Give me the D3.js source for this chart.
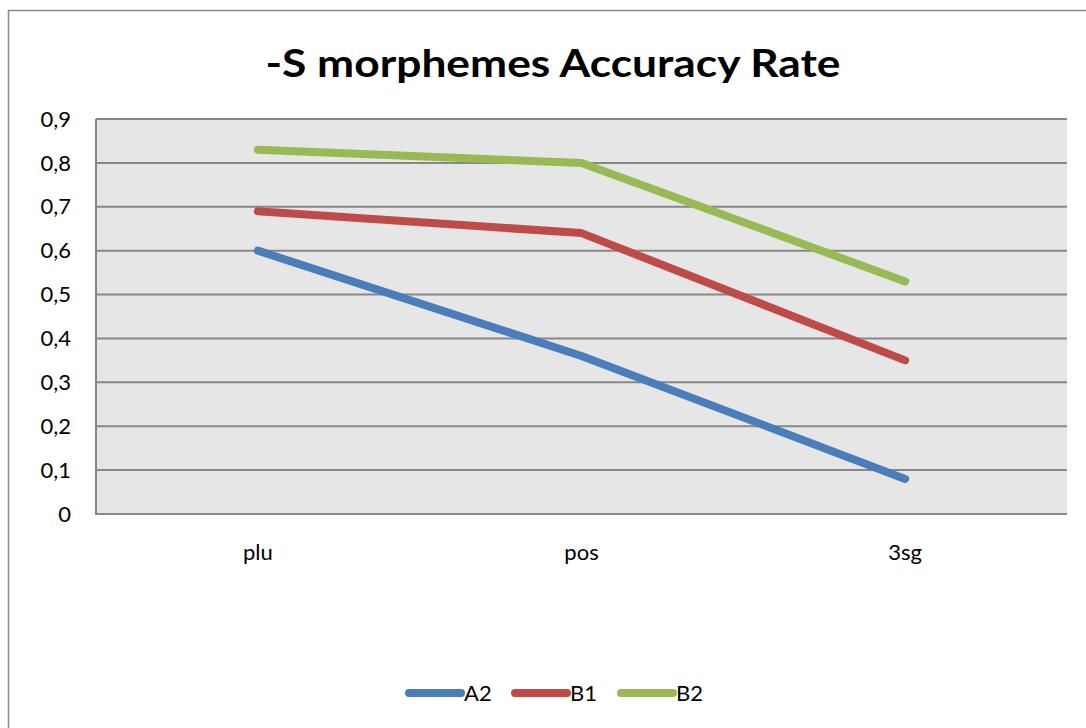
<!DOCTYPE html>
<html>
<head>
<meta charset="utf-8">
<script src="https://cdn.jsdelivr.net/npm/d3@7"></script>
<style>
  body { margin: 0; background: #fff; }
  text { font-family: Lato, "Open Sans", sans-serif; fill: #000; }
</style>
</head>
<body>
<div id="viz"></div>
<script>
const categories = ["plu", "pos", "3sg"];
const seriesNames = ["A2", "B1", "B2"];
const a2Values = [0.60, 0.36, 0.08];
const b1Values = [0.69, 0.64, 0.35];
const b2Values = [0.83, 0.80, 0.53];
const yTicks = [0, 0.1, 0.2, 0.3, 0.4, 0.5, 0.6, 0.7, 0.8, 0.9];
const colors = ["#4a7ebb", "#be4b48", "#98b954"];

const width = 1086;
const height = 728;

const svg = d3.select("#viz").append("svg")
    .attr("width", width)
    .attr("height", height);

// outer chart border (runs off the right and bottom edge)
svg.append("rect")
    .attr("x", 8.5).attr("y", 10.5)
    .attr("width", 1100).attr("height", 740)
    .attr("fill", "white")
    .attr("stroke", "#888").attr("stroke-width", 1.5);

const plot = { left: 96, right: 1067, top: 119, bottom: 514 };

const x = d3.scalePoint()
    .domain(categories)
    .range([plot.left, plot.right])
    .padding(0.5);

const y = d3.scaleLinear()
    .domain([0, 0.9])
    .range([plot.bottom, plot.top]);

svg.append("rect")
    .attr("x", plot.left).attr("y", plot.top)
    .attr("width", plot.right - plot.left)
    .attr("height", plot.bottom - plot.top)
    .attr("fill", "#e6e6e6");

// gridlines
svg.selectAll(".grid")
    .data(yTicks)
    .enter()
    .append("line")
    .attr("x1", plot.left).attr("x2", plot.right)
    .attr("y1", d => y(d)).attr("y2", d => y(d))
    .attr("stroke", "#878787").attr("stroke-width", 2);

svg.append("line")
    .attr("x1", plot.left).attr("x2", plot.left)
    .attr("y1", plot.top).attr("y2", plot.bottom + 1)
    .attr("stroke", "#878787").attr("stroke-width", 2);

const fmt = d => d === 0 ? "0" : d3.format(".1f")(d).replace(".", ",");

svg.selectAll(".ylab")
    .data(yTicks)
    .enter()
    .append("text")
    .attr("x", 71)
    .attr("y", d => y(d))
    .attr("dy", "0.35em")
    .attr("text-anchor", "end")
    .style("font-size", "22px")
    .text(fmt);

svg.selectAll(".xlab")
    .data(categories)
    .enter()
    .append("text")
    .attr("x", d => x(d))
    .attr("y", 552)
    .attr("dy", "0.35em")
    .attr("text-anchor", "middle")
    .style("font-size", "22px")
    .text(d => d);

const series = [a2Values, b1Values, b2Values];

const line = d3.line()
    .x((d, i) => x(categories[i]))
    .y(d => y(d));

svg.selectAll(".series")
    .data(series)
    .enter()
    .append("path")
    .attr("d", line)
    .attr("fill", "none")
    .attr("stroke", (d, i) => colors[i])
    .attr("stroke-width", 8)
    .attr("stroke-linecap", "round")
    .attr("stroke-linejoin", "round");

// title
svg.append("text")
    .attr("x", 553).attr("y", 64)
    .attr("dy", "0.35em")
    .attr("text-anchor", "middle")
    .style("font-size", "38px")
    .style("font-weight", "bold")
    .attr("textLength", 575)
    .attr("lengthAdjust", "spacingAndGlyphs")
    .text("-S morphemes Accuracy Rate");

// legend
const legendX = [409, 515, 621];
const legend = svg.selectAll(".legend")
    .data(seriesNames)
    .enter()
    .append("g")
    .attr("transform", (d, i) => `translate(${legendX[i]},693)`);

legend.append("line")
    .attr("x1", 0).attr("x2", 52)
    .attr("stroke", (d, i) => colors[i])
    .attr("stroke-width", 8)
    .attr("stroke-linecap", "round");

legend.append("text")
    .attr("x", 55)
    .attr("dy", "0.35em")
    .style("font-size", "22px")
    .text(d => d);
</script>
</body>
</html>
